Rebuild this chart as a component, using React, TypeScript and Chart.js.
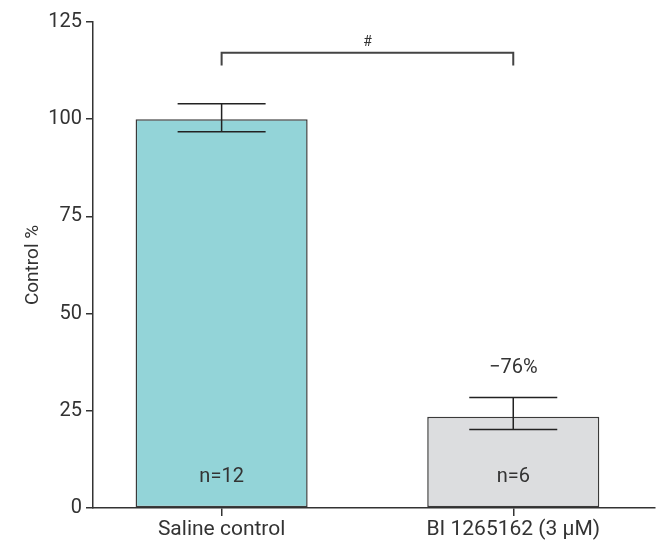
import React, { useEffect, useRef } from "react";
import { Chart, registerables } from "chart.js";

Chart.register(...registerables);

const categories = ["Saline control", "BI 1265162 (3 μM)"];
const values = [100, 23.5];
const errLow = [96.8, 20.2];
const errHigh = [104, 28.4];
const nLabels = ["n=12", "n=6"];
const changeLabels = ["", "\u221276%"];
const yTicks = [0, 25, 50, 75, 100, 125];
const bracketLabel = "#";

const FONT = "Roboto, 'DejaVu Sans', sans-serif";
const INK = "#333333";

const annotationPlugin = {
  id: "annotations",
  afterDatasetsDraw(chart: any) {
    const ctx = chart.ctx;
    const xs = chart.scales.x;
    const ys = chart.scales.y;
    ctx.save();
    // error bars
    ctx.strokeStyle = "#222222";
    ctx.lineWidth = 1.5;
    values.forEach((_, i) => {
      const x = xs.getPixelForValue(i);
      const yh = ys.getPixelForValue(errHigh[i]);
      const yl = ys.getPixelForValue(errLow[i]);
      ctx.beginPath();
      ctx.moveTo(x, yh);
      ctx.lineTo(x, yl);
      ctx.moveTo(x - 44, yh);
      ctx.lineTo(x + 44, yh);
      ctx.moveTo(x - 44, yl);
      ctx.lineTo(x + 44, yl);
      ctx.stroke();
    });
    // n labels and change labels
    ctx.fillStyle = INK;
    ctx.textAlign = "center";
    ctx.textBaseline = "middle";
    ctx.font = `20px ${FONT}`;
    values.forEach((_, i) => {
      const x = xs.getPixelForValue(i);
      ctx.fillText(nLabels[i], x, ys.getPixelForValue(8));
      if (changeLabels[i]) ctx.fillText(changeLabels[i], x, ys.getPixelForValue(36));
    });
    // bracket
    const x0 = xs.getPixelForValue(0);
    const x1 = xs.getPixelForValue(1);
    const yb = ys.getPixelForValue(117.1);
    const yleg = ys.getPixelForValue(113.8);
    ctx.strokeStyle = "#444444";
    ctx.lineWidth = 2;
    ctx.beginPath();
    ctx.moveTo(x0, yleg);
    ctx.lineTo(x0, yb);
    ctx.lineTo(x1, yb);
    ctx.lineTo(x1, yleg);
    ctx.stroke();
    ctx.font = `14px ${FONT}`;
    ctx.fillText(bracketLabel, (x0 + x1) / 2, ys.getPixelForValue(119.7));
    ctx.restore();
  },
};

export default function App() {
  const ref = useRef<HTMLCanvasElement | null>(null);
  useEffect(() => {
    if (!ref.current) return;
    const chart = new Chart(ref.current, {
      type: "bar",
      data: {
        datasets: [
          {
            data: values.map((v, i) => ({ x: i, y: v })),
            backgroundColor: ["#93D4D8", "#DCDDDF"],
            borderColor: "#3a3a3a",
            borderWidth: 1.5,
            borderSkipped: false,
            categoryPercentage: 1,
            barPercentage: 0.59,
          } as any,
        ],
      },
      options: {
        responsive: false,
        animation: false,
        layout: { padding: { top: 22, right: 5, left: 0, bottom: 0 } },
        plugins: { legend: { display: false }, tooltip: { enabled: false } },
        scales: {
          x: {
            type: "linear",
            min: -0.441,
            max: 1.486,
            offset: false,
            afterBuildTicks: (scale: any) => {
              scale.ticks = categories.map((_, i) => ({ value: i }));
            },
            afterFit: (scale: any) => {
              scale.height = 35;
            },
            ticks: {
              autoSkip: false,
              maxRotation: 0,
              padding: 1,
              color: INK,
              font: { family: FONT, size: 21 },
              callback: (v: any) => categories[v] ?? "",
            },
            grid: { offset: false, drawOnChartArea: false, tickLength: 8, color: INK, lineWidth: 1.5 },
            border: { color: INK, width: 1.5 },
          } as any,
          y: {
            min: 0,
            max: 125,
            afterBuildTicks: (scale: any) => {
              scale.ticks = yTicks.map((v) => ({ value: v }));
            },
            afterFit: (scale: any) => {
              scale.width = 93;
            },
            ticks: {
              padding: 4,
              color: INK,
              font: { family: FONT, size: 20 },
            },
            grid: { drawOnChartArea: false, tickLength: 7, color: INK, lineWidth: 1.5 },
            border: { color: INK, width: 1.5 },
            title: {
              display: true,
              text: "Control %",
              color: INK,
              font: { family: FONT, size: 19 },
              padding: { top: 22, bottom: 0 },
            },
          },
        },
      },
      plugins: [annotationPlugin],
    });
    return () => chart.destroy();
  }, []);
  return (
    <div style={{ position: "fixed", left: 0, top: 0, width: 660, height: 543, background: "#fff" }}>
      <canvas ref={ref} width={660} height={543} />
    </div>
  );
}
